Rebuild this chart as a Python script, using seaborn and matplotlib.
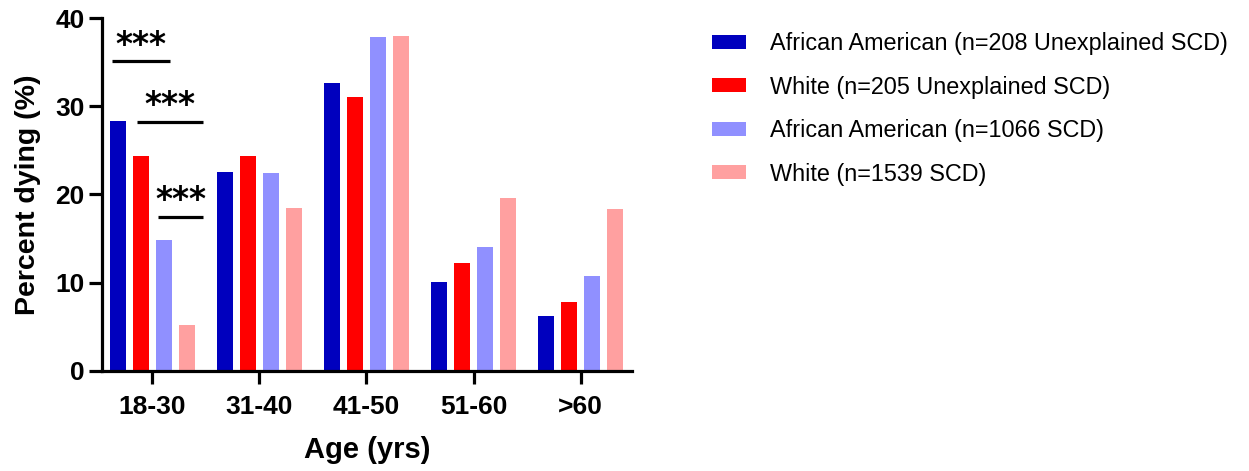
import matplotlib
matplotlib.use("Agg")
import matplotlib.pyplot as plt
import seaborn as sns
import pandas as pd

categories = ["18-30", "31-40", "41-50", "51-60", ">60"]
series_names = [
    "African American (n=208 Unexplained SCD)",
    "White (n=205 Unexplained SCD)",
    "African American (n=1066 SCD)",
    "White (n=1539 SCD)",
]
aa_unexplained = [28.3, 22.6, 32.6, 10.1, 6.2]
white_unexplained = [24.4, 24.4, 31.1, 12.2, 7.8]
aa_scd = [14.8, 22.4, 37.8, 14.1, 10.8]
white_scd = [5.2, 18.5, 38.0, 19.6, 18.4]
colors = ["#0000BE", "#FF0000", "#9090FF", "#FFA0A0"]
yticks = [0, 10, 20, 30, 40]

rows = []
for name, vals in zip(series_names, [aa_unexplained, white_unexplained, aa_scd, white_scd]):
    for c, v in zip(categories, vals):
        rows.append({"Age": c, "Group": name, "Percent": v})
df = pd.DataFrame(rows)

sns.set_style("ticks")
plt.rcParams["font.family"] = ["Liberation Sans", "DejaVu Sans"]
for k in ["text.color", "axes.labelcolor", "xtick.color", "ytick.color", "axes.edgecolor"]:
    plt.rcParams[k] = "black"

fig = plt.figure(figsize=(12.49, 4.71), dpi=100)
ax = fig.add_axes([102 / 1249, 1 - 371 / 471, (632 - 102) / 1249, (371 - 18) / 471])

sns.barplot(data=df, x="Age", y="Percent", hue="Group", order=categories,
            hue_order=series_names, palette=colors, width=0.86, gap=0.32,
            linewidth=0, saturation=1, ax=ax, legend=True)

ax.set_xlim(-0.47, 4.48)
ax.set_ylim(0, 40)
ax.set_yticks(yticks)
sns.despine(ax=ax)
for s in ["left", "bottom"]:
    ax.spines[s].set_linewidth(2.3)
ax.tick_params(axis="both", width=2.3, length=9.5, labelsize=19)
ax.tick_params(axis="x", pad=8)
ax.tick_params(axis="y", pad=3)
for lab in ax.get_xticklabels() + ax.get_yticklabels():
    lab.set_fontweight("bold")
ax.set_xlabel("Age (yrs)", fontsize=21, fontweight="bold", labelpad=12)
ax.set_ylabel("Percent dying (%)", fontsize=20.5, fontweight="bold", labelpad=10)

# significance annotations
sig = [(-0.374, 0.168, 35.1), (-0.14, 0.477, 28.25), (0.056, 0.477, 17.45)]
for x0, x1, y in sig:
    ax.plot([x0, x1], [y, y], color="black", lw=2.3, solid_capstyle="butt", clip_on=False)
    ax.text((x0 + x1) / 2, y + 0.75, "***", ha="center", va="baseline",
            fontsize=23.5, fontweight="bold", family="DejaVu Sans")

handles, labels = ax.get_legend_handles_labels()
ax.legend_.remove()
fig.legend(handles, labels, loc="upper left", bbox_to_anchor=(691 / 1249, 1 - 11 / 471),
           frameon=False, fontsize=16.8, handlelength=1.45, handleheight=0.55,
           handletextpad=1.05, labelspacing=0.88)

fig.savefig("out.png", dpi=100)
